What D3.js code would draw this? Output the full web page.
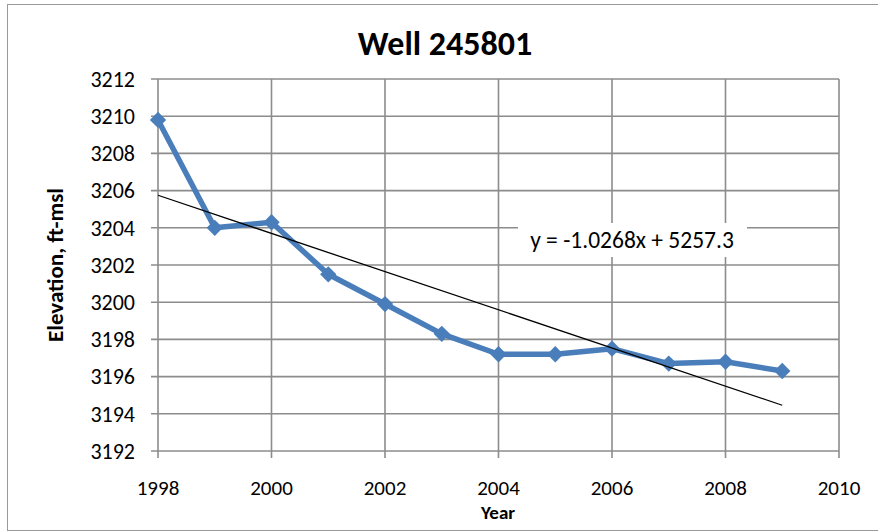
<!doctype html>
<html>
<head>
<meta charset="utf-8">
<script src="https://cdn.jsdelivr.net/npm/d3@7"></script>
<style>
  body { margin: 0; background: #fff; }
  text { font-family: Carlito, Lato, "Open Sans", sans-serif; fill: #000; }
</style>
</head>
<body>
<svg id="chart" width="878" height="531"></svg>
<script>
// values
var years = [1998, 1999, 2000, 2001, 2002, 2003, 2004, 2005, 2006, 2007, 2008, 2009];
var elevation = [3209.8, 3204.0, 3204.3, 3201.5, 3199.9, 3198.3, 3197.2, 3197.2, 3197.5, 3196.7, 3196.8, 3196.3];
var trendYears = [1998, 2009];
var trendValues = [3205.75, 3194.46];
var xTicks = [1998, 2000, 2002, 2004, 2006, 2008, 2010];
var yTicks = [3192, 3194, 3196, 3198, 3200, 3202, 3204, 3206, 3208, 3210, 3212];
var equation = "y = -1.0268x + 5257.3";

var svg = d3.select("#chart");

// outer chart border
svg.append("rect")
   .attr("x", 7.5).attr("y", 4.5)
   .attr("width", 880).attr("height", 526)
   .attr("fill", "none")
   .attr("stroke", "#9a9a9a")
   .attr("stroke-width", 1);

var plotL = 158, plotR = 839, plotT = 79, plotB = 451;

var x = d3.scaleLinear().domain([1998, 2010]).range([plotL, plotR]);
var y = d3.scaleLinear().domain([3192, 3212]).range([plotB, plotT]);

var grid = "#8c8c8c";

// horizontal gridlines + left ticks
svg.append("g").selectAll("line")
   .data(yTicks).enter().append("line")
   .attr("x1", plotL - 7).attr("x2", plotR)
   .attr("y1", function(d) { return y(d); })
   .attr("y2", function(d) { return y(d); })
   .attr("stroke", grid).attr("stroke-width", 1.6);

// vertical gridlines + bottom ticks
svg.append("g").selectAll("line")
   .data(xTicks).enter().append("line")
   .attr("x1", function(d) { return x(d); })
   .attr("x2", function(d) { return x(d); })
   .attr("y1", plotT).attr("y2", plotB + 7)
   .attr("stroke", grid).attr("stroke-width", 1.6);

// tick labels
svg.append("g").selectAll("text")
   .data(yTicks).enter().append("text")
   .attr("x", 135)
   .attr("y", function(d) { return y(d); })
   .attr("dy", "0.35em")
   .attr("text-anchor", "end")
   .attr("font-size", "22px")
   .text(function(d) { return d; });

svg.append("g").selectAll("text")
   .data(xTicks).enter().append("text")
   .attr("x", function(d) { return x(d); })
   .attr("y", 495)
   .attr("text-anchor", "middle")
   .attr("font-size", "21px")
   .text(function(d) { return d; });

// titles
svg.append("text")
   .attr("x", 445).attr("y", 55)
   .attr("text-anchor", "middle")
   .attr("font-size", "34px")
   .attr("font-weight", "bold")
   .text("Well 245801");

svg.append("text")
   .attr("x", 498).attr("y", 519)
   .attr("text-anchor", "middle")
   .attr("font-size", "19px")
   .attr("font-weight", "bold")
   .text("Year");

svg.append("text")
   .attr("transform", "translate(63,265) rotate(-90)")
   .attr("text-anchor", "middle")
   .attr("font-size", "23px")
   .attr("font-weight", "bold")
   .text("Elevation, ft-msl");

// data line
var data = years.map(function(d, i) { return {year: d, value: elevation[i]}; });
var line = d3.line()
    .x(function(d) { return x(d.year); })
    .y(function(d) { return y(d.value); });

var blue = "#4a7ebb";

svg.append("path")
   .datum(data)
   .attr("d", line)
   .attr("fill", "none")
   .attr("stroke", blue)
   .attr("stroke-width", 5.5)
   .attr("stroke-linejoin", "round");

svg.append("g").selectAll("path")
   .data(data).enter().append("path")
   .attr("d", d3.symbol().type(d3.symbolDiamond2).size(170))
   .attr("transform", function(d) { return "translate(" + x(d.year) + "," + y(d.value) + ")"; })
   .attr("fill", blue);

// linear trendline
var trend = trendYears.map(function(d, i) { return {year: d, value: trendValues[i]}; });
svg.append("path")
   .datum(trend)
   .attr("d", line)
   .attr("fill", "none")
   .attr("stroke", "#000")
   .attr("stroke-width", 1.3);

// equation label
svg.append("rect")
   .attr("x", 518).attr("y", 223)
   .attr("width", 229).attr("height", 34)
   .attr("fill", "#fff");

svg.append("text")
   .attr("x", 632).attr("y", 248)
   .attr("text-anchor", "middle")
   .attr("font-size", "23.5px")
   .text(equation);
</script>
</body>
</html>
